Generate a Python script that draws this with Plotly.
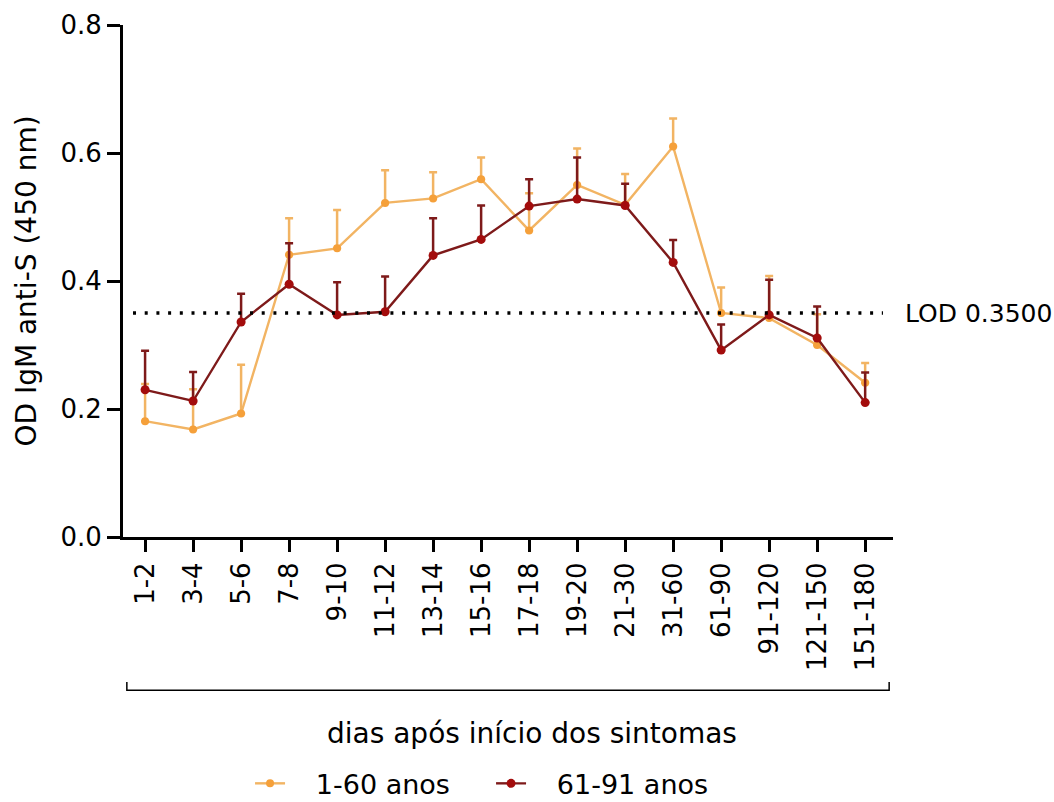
import plotly.graph_objects as go

categories = ["1-2", "3-4", "5-6", "7-8", "9-10", "11-12", "13-14", "15-16", "17-18",
              "19-20", "21-30", "31-60", "61-90", "91-120", "121-150", "151-180"]

young_mean = [0.181, 0.168, 0.193, 0.441, 0.451, 0.522, 0.529, 0.559, 0.479,
              0.550, 0.519, 0.610, 0.350, 0.342, 0.300, 0.241]
young_err = [0.058, 0.063, 0.076, 0.057, 0.060, 0.051, 0.041, 0.034, 0.058,
             0.057, 0.048, 0.044, 0.040, 0.066, 0.048, 0.031]

old_mean = [0.230, 0.2125, 0.336, 0.395, 0.347, 0.352, 0.440, 0.465, 0.517,
            0.528, 0.518, 0.429, 0.292, 0.347, 0.311, 0.210]
old_err = [0.061, 0.0455, 0.044, 0.064, 0.051, 0.055, 0.058, 0.053, 0.042,
           0.065, 0.034, 0.035, 0.040, 0.055, 0.049, 0.047]

lod_value = 0.35
names = ["1-60 anos", "61-91 anos"]

FONT = "DejaVu Sans"
NB = "\u00a0"

fig = go.Figure()
fig.add_trace(go.Scatter(
    x=categories, y=young_mean, name=NB * 3 + names[0], mode="lines+markers",
    line=dict(color="#F2B463", width=2.4),
    marker=dict(color="#F5A03A", size=8),
    error_y=dict(type="data", array=young_err, arrayminus=[0] * len(young_err),
                 symmetric=False, color="#F2B463", thickness=2.5, width=4),
))
fig.add_trace(go.Scatter(
    x=categories, y=old_mean, name=NB * 3 + names[1], mode="lines+markers",
    line=dict(color="#7E1A1A", width=2.4),
    marker=dict(color="#A30C0C", size=9),
    error_y=dict(type="data", array=old_err, arrayminus=[0] * len(old_err),
                 symmetric=False, color="#7E1A1A", thickness=2.5, width=4),
))

# LOD dotted line
fig.add_shape(type="line", xref="paper", yref="y", x0=0.013, x1=0.987,
              y0=lod_value, y1=lod_value,
              line=dict(color="black", width=3.5, dash="3px,8.7px"))
fig.add_annotation(xref="paper", yref="y", x=1.013, y=lod_value, text="LOD 0.3500",
                   showarrow=False, xanchor="left", yanchor="middle",
                   font=dict(family=FONT, size=25, color="black"))

# bracket under the category labels
fig.add_shape(type="path", xref="paper", yref="paper",
              path="M 0.005,-0.283 L 0.005,-0.2995 L 0.995,-0.2995 L 0.995,-0.283",
              line=dict(color="black", width=1.5))
fig.add_annotation(xref="paper", yref="paper", x=0.531, y=-0.383,
                   text="dias após início dos sintomas", showarrow=False,
                   xanchor="center", yanchor="middle",
                   font=dict(family=FONT, size=28, color="black"))

fig.update_layout(
    width=1054, height=802,
    margin=dict(l=123, r=161, t=25, b=265, autoexpand=False),
    plot_bgcolor="white", paper_bgcolor="white",
    font=dict(family=FONT, size=26, color="black"),
    showlegend=True,
    legend=dict(orientation="h", x=0.165, y=-0.482, xanchor="left", yanchor="middle",
                font=dict(family=FONT, size=27), itemwidth=30,
                entrywidth=196, bgcolor="rgba(0,0,0,0)"),
    xaxis=dict(
        type="category", range=[-0.46, 15.58], showgrid=False, zeroline=False,
        showline=True, linecolor="black", linewidth=3,
        ticks="outside", ticklen=12, tickwidth=3, tickcolor="black",
        tickangle=-90, tickfont=dict(family=FONT, size=26),
    ),
    yaxis=dict(
        range=[0, 0.8], tickvals=[0, 0.2, 0.4, 0.6, 0.8],
        ticktext=["0.0", "0.2", "0.4", "0.6", "0.8"],
        showgrid=False, zeroline=False,
        showline=True, linecolor="black", linewidth=3,
        ticks="outside", ticklen=13, tickwidth=3, tickcolor="black",
        tickfont=dict(family=FONT, size=26),
        title=dict(text="OD IgM anti-S (450 nm)", font=dict(family=FONT, size=28),
                   standoff=16),
    ),
)

fig.write_html("out.html")
